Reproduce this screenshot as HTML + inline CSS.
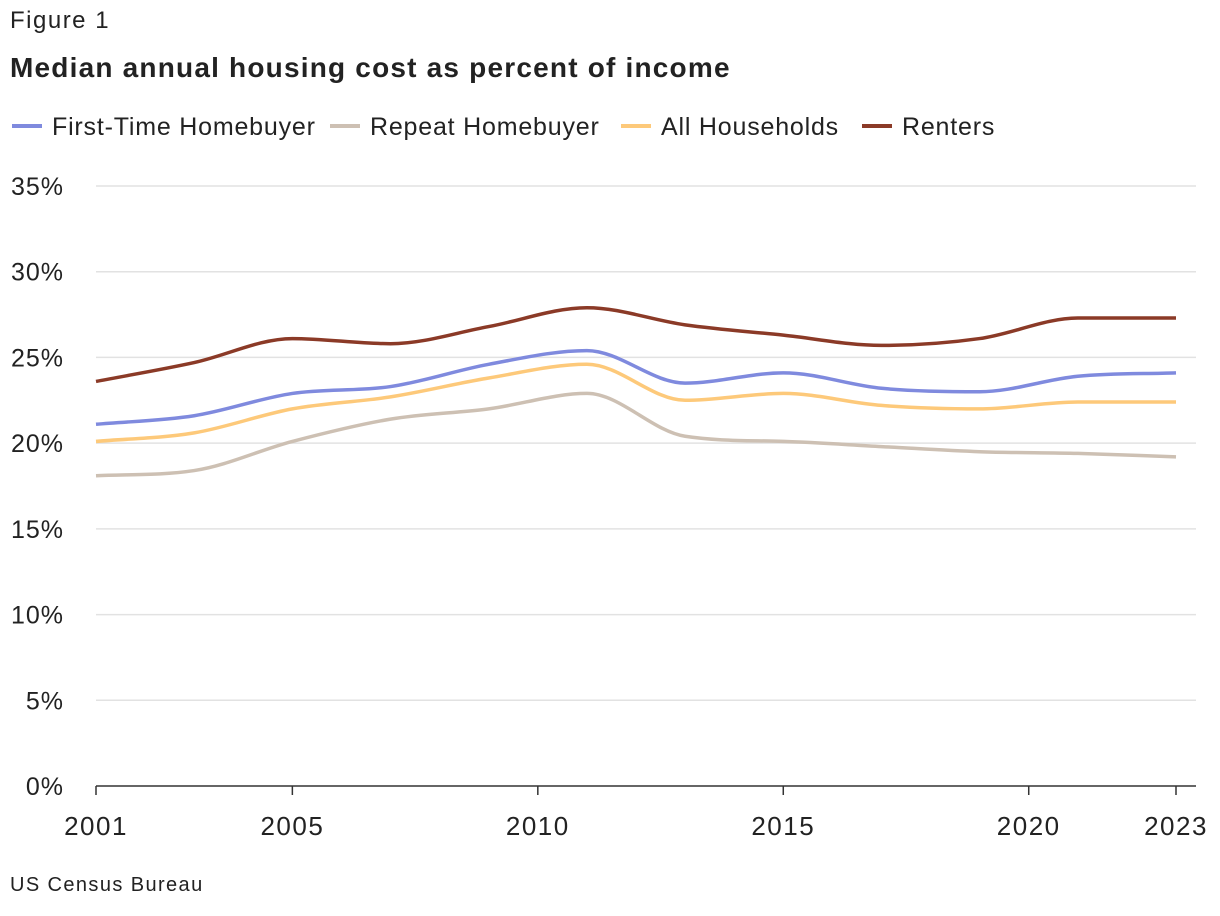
<!DOCTYPE html>
<html><head><meta charset="utf-8"><style>
body{margin:0;background:#fff;font-family:"Liberation Sans",sans-serif;color:#222;}
#wrap{position:relative;width:1220px;height:916px;overflow:hidden;}
.t{position:absolute;white-space:nowrap;}
</style></head><body>
<div id="wrap">
<div class="t" style="left:10px;top:7px;font-size:24px;letter-spacing:1.5px;">Figure 1</div>
<div class="t" style="left:10px;top:52px;font-size:28px;font-weight:bold;letter-spacing:1.2px;">Median annual housing cost as percent of income</div>
<svg id="svg" width="1220" height="916" style="position:absolute;left:0;top:0"></svg>
<div class="t" style="left:10px;top:874px;font-size:20px;letter-spacing:1.4px;">US Census Bureau</div>
</div>
<script>
const years=[2001,2003,2005,2007,2009,2011,2013,2015,2017,2019,2021,2023];
const seriesNames=["First-Time Homebuyer","Repeat Homebuyer","All Households","Renters"];
const firstTime=[21.1,21.6,22.9,23.3,24.6,25.4,23.5,24.1,23.2,23.0,23.9,24.1];
const repeat=[18.1,18.4,20.1,21.4,22.0,22.9,20.4,20.1,19.8,19.5,19.4,19.2];
const allHouseholds=[20.1,20.6,22.0,22.7,23.8,24.6,22.5,22.9,22.2,22.0,22.4,22.4];
const renters=[23.6,24.7,26.1,25.8,26.8,27.9,26.9,26.3,25.7,26.1,27.3,27.3];
const yTicks=[0,5,10,15,20,25,30,35];
const xTicks=[2001,2005,2010,2015,2020,2023];
const colors=["#7f8ade","#cdc0b3","#fdc97a","#8b3a27"];
const NS="http://www.w3.org/2000/svg";
const svg=document.getElementById('svg');
const x=v=>96+(v-2001)*(1080/22);
const y=v=>786-v*(600/35);
function mk(t,a){const e=document.createElementNS(NS,t);for(const k in a)e.setAttribute(k,a[k]);svg.appendChild(e);return e;}
yTicks.forEach(v=>{
 if(v>0){const g=mk('line',{x1:96,x2:1196,y1:y(v),y2:y(v),stroke:'#e2e2e2','stroke-width':1.5});
 
 }
 const t=mk('text',{x:64,y:y(v)+9,'text-anchor':'end','font-size':25,'letter-spacing':1,fill:'#222','font-family':'Liberation Sans'});
 t.textContent=v+'%';
 
 
});
const ax=mk('line',{x1:96,x2:1196,y1:786,y2:786,stroke:'#333','stroke-width':1.5});


xTicks.forEach(v=>{
 const tk=mk('line',{x1:x(v),x2:x(v),y1:786,y2:795,stroke:'#333','stroke-width':1.5});
 
 
 const t=mk('text',{x:x(v),y:835,'text-anchor':'middle','font-size':26,'letter-spacing':1.5,fill:'#222','font-family':'Liberation Sans'});
 t.textContent=v;
 
 
});
function monotone(px,py){
 const n=px.length,d=[],m=[];
 for(let i=0;i<n-1;i++)d.push((py[i+1]-py[i])/(px[i+1]-px[i]));
 m[0]=d[0];m[n-1]=d[n-2];
 for(let i=1;i<n-1;i++){m[i]=(d[i-1]*d[i]<=0)?0:(d[i-1]+d[i])/2;}
 for(let i=0;i<n-1;i++){if(d[i]===0){m[i]=0;m[i+1]=0;continue;}
  const a=m[i]/d[i],b=m[i+1]/d[i],s=a*a+b*b;if(s>9){const t=3/Math.sqrt(s);m[i]=t*a*d[i];m[i+1]=t*b*d[i];}}
 let p='M'+px[0]+','+py[0];
 for(let i=0;i<n-1;i++){const h=(px[i+1]-px[i])/3;
  p+=' C'+(px[i]+h)+','+(py[i]+m[i]*h)+' '+(px[i+1]-h)+','+(py[i+1]-m[i+1]*h)+' '+px[i+1]+','+py[i+1];}
 return p;
}
const data=[firstTime,repeat,allHouseholds,renters];
const keys=['first-time-homebuyer','repeat-homebuyer','all-households','renters'];
data.forEach((s,k)=>{
 const p=mk('path',{d:monotone(years.map(x),s.map(y)),fill:'none',stroke:colors[k],'stroke-width':3.5});
 
 
});
const lx=[12,330,621,862];
seriesNames.forEach((n,k)=>{
 const l=mk('line',{x1:lx[k],x2:lx[k]+30,y1:126,y2:126,stroke:colors[k],'stroke-width':4});
 
 
 const t=mk('text',{x:lx[k]+40,y:135,'font-size':25,'letter-spacing':0.8,fill:'#222','font-family':'Liberation Sans'});
 t.textContent=n;
 
 
});
</script>
</body></html>
